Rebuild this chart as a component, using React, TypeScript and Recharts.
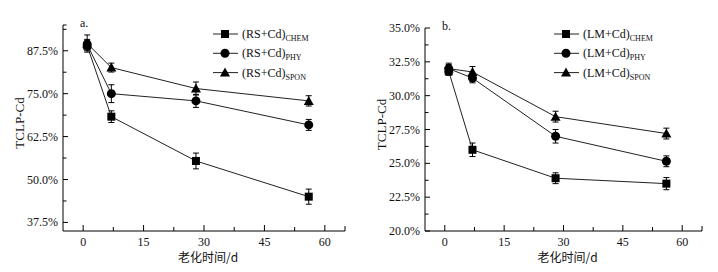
import React from "react";
import { LineChart, Line, XAxis, YAxis, ErrorBar, Legend, Label } from "recharts";

const FONT = '"Liberation Serif", "Times New Roman", serif';
const CJK = '"Noto Sans CJK SC", sans-serif';
const INK = "#111";

// sampling days (x)
const days = [1, 7, 28, 56];

// panel a: RS + Cd, TCLP-Cd in %
const rsChem = [89.0, 68.3, 55.4, 45.0];
const rsChemErr = [1.5, 1.7, 2.3, 2.2];
const rsPhy = [89.3, 75.0, 72.9, 65.9];
const rsPhyErr = [1.5, 2.6, 1.9, 1.6];
const rsSpon = [89.6, 82.6, 76.5, 72.9];
const rsSponErr = [2.5, 1.3, 1.9, 1.5];

// panel b: LM + Cd
const lmChem = [31.8, 26.0, 23.9, 23.5];
const lmChemErr = [0.3, 0.5, 0.4, 0.45];
const lmPhy = [32.0, 31.3, 27.0, 25.15];
const lmPhyErr = [0.3, 0.35, 0.5, 0.4];
const lmSpon = [32.0, 31.75, 28.45, 27.2];
const lmSponErr = [0.4, 0.4, 0.4, 0.4];

const subs = ["CHEM", "PHY", "SPON"];

const xTicks = [0, 7.5, 15, 22.5, 30, 37.5, 45, 52.5, 60, 65];
const xLabels = [0, 15, 30, 45, 60];
const aTicks = [37.5, 43.75, 50, 56.25, 62.5, 68.75, 75, 81.25, 87.5, 93.75, 95];
const aLabels = [37.5, 50, 62.5, 75, 87.5];
const bTicks = [20, 21.25, 22.5, 23.75, 25, 26.25, 27.5, 28.75, 30, 31.25, 32.5, 33.75, 35];
const bLabels = [20, 22.5, 25, 27.5, 30, 32.5, 35];

const rows = (chem, chemErr, phy, phyErr, spon, sponErr) =>
  days.map((d, i) => ({
    day: d,
    chem: chem[i],
    chemErr: chemErr[i],
    phy: phy[i],
    phyErr: phyErr[i],
    spon: spon[i],
    sponErr: sponErr[i],
  }));

const dataA = rows(rsChem, rsChemErr, rsPhy, rsPhyErr, rsSpon, rsSponErr);
const dataB = rows(lmChem, lmChemErr, lmPhy, lmPhyErr, lmSpon, lmSponErr);

// markers
const Square = ({ cx, cy }: any) => <rect x={cx - 4} y={cy - 4} width={8} height={8} fill="#000" />;
const Circle = ({ cx, cy }: any) => <circle cx={cx} cy={cy} r={4.5} fill="#000" />;
const Triangle = ({ cx, cy }: any) => (
  <path d={`M${cx},${cy - 5}L${cx + 5},${cy + 4}L${cx - 5},${cy + 4}Z`} fill="#000" />
);
const shapes = [Square, Circle, Triangle];

const XTick = ({ x, y, payload }: any) => {
  const v = payload.value;
  const major = xLabels.includes(v);
  const len = major ? 6 : v === 65 ? 5 : 4;
  return (
    <g>
      <line x1={x} x2={x} y1={y} y2={y - len} stroke="#000" />
      {major && (
        <text x={x} y={y + 15} textAnchor="middle" fontSize={12} fontFamily={FONT} fill={INK}>
          {v}
        </text>
      )}
    </g>
  );
};

const makeYTick = (labels: number[]) => ({ x, y, payload }: any) => {
  const v = payload.value;
  const major = labels.includes(v);
  return (
    <g>
      <line x1={x} x2={x + (major ? 5 : 3.5)} y1={y} y2={y} stroke="#000" />
      {major && (
        <text x={x - 5} y={y + 4} textAnchor="end" fontSize={12} fontFamily={FONT} fill={INK}>
          {v.toFixed(1)}%
        </text>
      )}
    </g>
  );
};

const yLabel = (panel: string) => ({ viewBox }: any) => {
  const cx = viewBox.x + viewBox.width - 44;
  const cy = viewBox.y + viewBox.height / 2 - 5;
  return (
    <g>
      <text
        x={cx}
        y={cy}
        transform={`rotate(-90, ${cx}, ${cy})`}
        textAnchor="middle"
        dominantBaseline="central"
        fontSize={13}
        fontFamily={FONT}
        fill={INK}
      >
        TCLP-Cd
      </text>
      <text x={viewBox.x + viewBox.width + 17} y={viewBox.y + 2} fontSize={12} fontFamily={FONT} fill={INK}>
        {panel}
      </text>
    </g>
  );
};

const xLabel = ({ viewBox }: any) => (
  <text
    x={viewBox.x + viewBox.width / 2 + 4}
    y={viewBox.y + 31}
    textAnchor="middle"
    fontSize={12}
    fontFamily={CJK}
    fill={INK}
  >
    老化时间/d
  </text>
);

const legendContent = (base: string) => () => (
  <svg width={150} height={62} style={{ display: "block" }}>
    {shapes.map((S, i) => {
      const cy = 10 + i * 19.3;
      return (
        <g key={i}>
          <line x1={8} x2={33} y1={cy} y2={cy} stroke="#222" />
          <S cx={20} cy={cy} />
          <text x={37} y={cy + 4} fontSize={12} fontFamily={FONT} fill={INK}>
            {base}
            <tspan fontSize={8} dy={3}>
              {subs[i]}
            </tspan>
          </text>
        </g>
      );
    })}
  </svg>
);

function Panel({ data, domain, ticks, labels, panel, base, margin, width, legendLeft }: any) {
  const keys = ["chem", "phy", "spon"];
  return (
    <LineChart width={width} height={272} data={data} margin={margin}>
      <XAxis
        dataKey="day"
        type="number"
        domain={[-5, 65]}
        ticks={xTicks}
        interval={0}
        height={30}
        tickSize={0}
        tickMargin={0}
        tickLine={false}
        axisLine={{ stroke: "#000", strokeWidth: 1 }}
        tick={(p: any) => <XTick {...p} />}
      >
        <Label content={xLabel} />
      </XAxis>
      <YAxis
        type="number"
        domain={domain}
        ticks={ticks}
        interval={0}
        width={55}
        tickSize={0}
        tickMargin={0}
        tickLine={false}
        axisLine={{ stroke: "#000", strokeWidth: 1 }}
        tick={makeYTick(labels)}
      >
        <Label content={yLabel(panel)} />
      </YAxis>
      <Legend
        layout="vertical"
        align="center"
        verticalAlign="middle"
        content={legendContent(base)}
        wrapperStyle={{ left: legendLeft, top: 24, width: 150, height: 62 }}
      />
      {keys.map((k, i) => {
        const S = shapes[i];
        return (
          <Line
            key={k}
            dataKey={k}
            type="linear"
            stroke="#222"
            strokeWidth={1}
            isAnimationActive={false}
            dot={(p: any) => <S key={`${k}-${p.index}`} cx={p.cx} cy={p.cy} />}
            activeDot={false}
          >
            <ErrorBar dataKey={`${k}Err`} width={3} stroke="#000" strokeWidth={1} direction="y" />
          </Line>
        );
      })}
    </LineChart>
  );
}

export default function App() {
  return (
    <div
      style={{
        position: "absolute",
        left: 0,
        top: 0,
        width: 718,
        height: 272,
        background: "#fff",
        fontFamily: FONT,
      }}
    >
      <div style={{ position: "absolute", left: 0, top: 0 }}>
        <Panel
          data={dataA}
          domain={[35, 95]}
          ticks={aTicks}
          labels={aLabels}
          panel="a."
          base="(RS+Cd)"
          width={358}
          legendLeft={205}
          margin={{ top: 25, right: 13, bottom: 11, left: 8 }}
        />
      </div>
      <div style={{ position: "absolute", left: 358, top: 0 }}>
        <Panel
          data={dataB}
          domain={[20, 35]}
          ticks={bTicks}
          labels={bLabels}
          panel="b."
          base="(LM+Cd)"
          width={360}
          legendLeft={188}
          margin={{ top: 28, right: 16, bottom: 11, left: 12 }}
        />
      </div>
    </div>
  );
}
